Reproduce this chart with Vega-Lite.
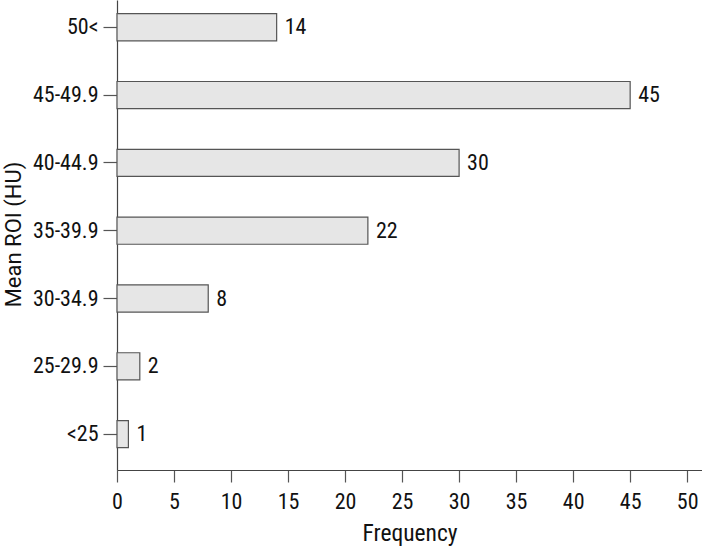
{
  "$schema": "https://vega.github.io/schema/vega-lite/v6.json",
  "autosize": "none",
  "width": 585,
  "height": 470,
  "padding": {"left": 117, "top": 0, "right": 0, "bottom": 78},
  "background": "white",
  "config": {
    "view": {"stroke": null},
    "font": "'Roboto Condensed', 'DejaVu Sans Condensed', sans-serif",
    "axis": {"grid": false}
  },
  "data": {
    "values": [
      {"range": "50<", "freq": 14},
      {"range": "45-49.9", "freq": 45},
      {"range": "40-44.9", "freq": 30},
      {"range": "35-39.9", "freq": 22},
      {"range": "30-34.9", "freq": 8},
      {"range": "25-29.9", "freq": 2},
      {"range": "<25", "freq": 1}
    ]
  },
  "encoding": {
    "y": {
      "field": "range",
      "type": "nominal",
      "sort": ["50<", "45-49.9", "40-44.9", "35-39.9", "30-34.9", "25-29.9", "<25"],
      "scale": {"paddingInner": 0.6, "paddingOuter": 0.265, "align": 0.38},
      "axis": {
        "title": "Mean ROI (HU)",
        "titleFont": "Roboto",
        "titleFontSize": 22,
        "titleFontWeight": "normal",
        "titleColor": "#111",
        "titleAngle": 270,
        "titleAlign": "center",
        "titleBaseline": "alphabetic",
        "titleX": -97,
        "titleY": 234,
        "labelFont": "'Roboto Condensed', 'DejaVu Sans Condensed', sans-serif",
        "labelFontSize": 22,
        "labelColor": "#111",
        "labelPadding": 5,
        "tickSize": 14,
        "tickColor": "#555",
        "domainColor": "#444",
        "tickWidth": 1.2,
        "domainWidth": 1.2
      }
    },
    "x": {
      "field": "freq",
      "type": "quantitative",
      "scale": {"domain": [0, 51.3], "nice": false},
      "axis": {
        "title": "Frequency",
        "titleFont": "'Roboto Condensed', 'DejaVu Sans Condensed', sans-serif",
        "titleFontSize": 23.5,
        "titleFontWeight": "normal",
        "titleColor": "#111",
        "titleBaseline": "alphabetic",
        "titleY": 70,
        "values": [0, 5, 10, 15, 20, 25, 30, 35, 40, 45, 50],
        "labelFont": "'Roboto Condensed', 'DejaVu Sans Condensed', sans-serif",
        "labelFontSize": 22,
        "labelColor": "#111",
        "labelPadding": 9,
        "labelFlush": false,
        "tickSize": 12,
        "tickColor": "#555",
        "domainColor": "#444",
        "tickWidth": 1.2,
        "domainWidth": 1.2
      }
    }
  },
  "layer": [
    {
      "mark": {"type": "bar", "fill": "#e6e6e6", "stroke": "#555", "strokeWidth": 1.2}
    },
    {
      "mark": {"type": "text", "align": "left", "baseline": "middle", "dx": 8, "fontSize": 22, "color": "#111", "font": "'Roboto Condensed', 'DejaVu Sans Condensed', sans-serif"},
      "encoding": {"text": {"field": "freq", "type": "quantitative"}}
    }
  ]
}
